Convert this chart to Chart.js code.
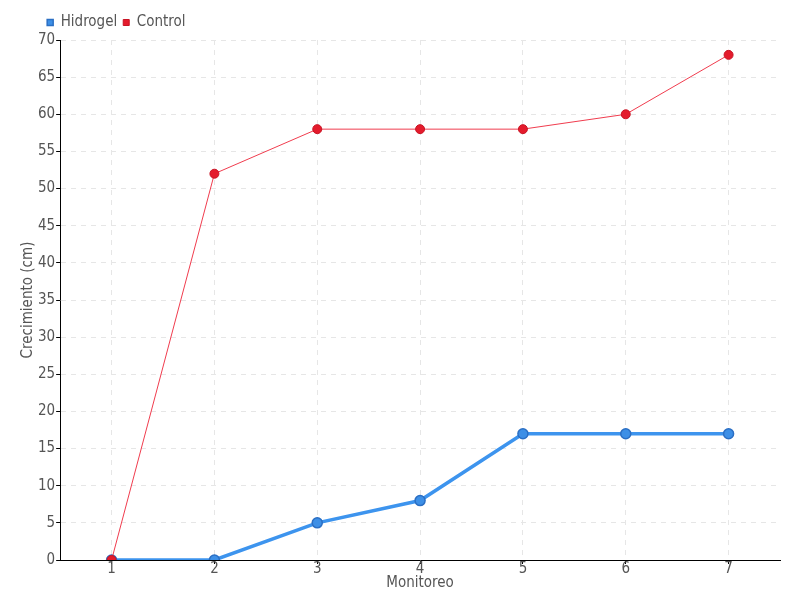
<!DOCTYPE html>
<html>
<head>
<meta charset="utf-8">
<script src="https://cdn.jsdelivr.net/npm/chart.js@4"></script>
<style>
  body { margin: 0; background: #fff; }
</style>
</head>
<body>
<canvas id="myChart" width="800" height="600"></canvas>
<script>
const categories = ['1', '2', '3', '4', '5', '6', '7'];
const hidrogel = [0, 0, 5, 8, 17, 17, 17];
const control = [0, 52, 58, 58, 58, 60, 68];
const yTicks = [0, 5, 10, 15, 20, 25, 30, 35, 40, 45, 50, 55, 60, 65, 70];

const fontFamily = '"DejaVu Sans Condensed", sans-serif';
const textColor = '#555';

// move the legend so it starts a bit left of the plot, like the original
const legendShift = {
    id: 'legendShift',
    afterLayout(chart) {
        chart.legend.left = chart.chartArea.left - 19;
    },
};

const ctx = document.getElementById('myChart').getContext('2d');
const myChart = new Chart(ctx, {
    type: 'line',
    plugins: [legendShift],
    data: {
        labels: categories,
        datasets: [
            {
                label: 'Hidrogel',
                data: hidrogel,
                borderColor: '#3d94ee',
                backgroundColor: '#3d8fe6',
                pointBorderColor: '#2b6fc4',
                borderWidth: 3.5,
                pointRadius: 5,
                pointBorderWidth: 1.5,
                tension: 0,
                order: 1,
            },
            {
                label: 'Control',
                data: control,
                borderColor: '#f03c4e',
                backgroundColor: '#e41b2c',
                pointBorderColor: '#c81424',
                borderWidth: 1,
                pointRadius: 4.5,
                pointBorderWidth: 1,
                tension: 0,
                order: 0,
            },
        ],
    },
    options: {
        responsive: false,
        animation: false,
        layout: { padding: { left: 19, right: 20, top: 9, bottom: 8 } },
        scales: {
            x: {
                offset: true,
                grid: {
                    color: '#e6e6e6',
                    offset: false,
                    tickLength: 4,
                    tickColor: '#000',
                },
                border: { color: '#000', width: 1, dash: [5, 5] },
                ticks: {
                    color: textColor,
                    font: { family: fontFamily, size: 15 },
                    padding: -4,
                },
                title: {
                    display: true,
                    text: 'Monitoreo',
                    color: textColor,
                    font: { family: fontFamily, size: 15 },
                    padding: { top: 0, bottom: 0 },
                },
            },
            y: {
                min: 0,
                max: 70,
                afterBuildTicks: (axis) => {
                    axis.ticks = yTicks.map((v) => ({ value: v }));
                },
                grid: {
                    color: '#e6e6e6',
                    tickLength: 4,
                    tickColor: '#000',
                },
                border: { color: '#000', width: 1, dash: [5, 5] },
                ticks: {
                    color: textColor,
                    font: { family: fontFamily, size: 15 },
                    padding: 1,
                },
                title: {
                    display: true,
                    text: 'Crecimiento (cm)',
                    color: textColor,
                    font: { family: fontFamily, size: 15 },
                    padding: { top: 0, bottom: 0 },
                },
            },
        },
        plugins: {
            legend: {
                align: 'start',
                labels: {
                    usePointStyle: true,
                    pointStyle: 'rect',
                    boxWidth: 6,
                    boxHeight: 6,
                    padding: 6,
                    color: textColor,
                    font: { family: fontFamily, size: 15 },
                    sort: (a, b) => a.datasetIndex - b.datasetIndex,
                },
            },
            tooltip: { enabled: false },
        },
    },
});
</script>
</body>
</html>
